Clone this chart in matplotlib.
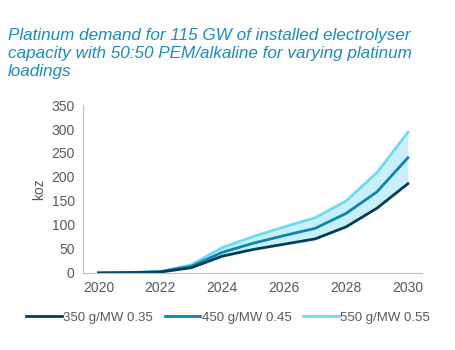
import numpy as np
import matplotlib.pyplot as plt
plt.switch_backend('agg')

years = [2020, 2021, 2022, 2023, 2024, 2025, 2026, 2027, 2028, 2029, 2030]
low = [0, 0.6, 2, 11, 35, 49, 60, 71, 96, 135, 186]
mid = [0, 0.8, 2.5, 14, 43, 62, 78, 93, 124, 169, 240]
high = [0, 1, 3, 17, 53, 76, 96, 115, 150, 209, 293]
labels = ["350 g/MW 0.35", "450 g/MW 0.45", "550 g/MW 0.55"]
colors = ["#003e5c", "#0a86b4", "#6ddaf6"]

plt.rcParams['font.family'] = ['Liberation Sans', 'DejaVu Sans']

fig = plt.figure(figsize=(4.56, 3.5), dpi=100)
ax = fig.add_axes([0.182, 0.22, 0.743, 0.48])

ax.fill_between(years, low, high, color="#c9eff9", lw=0)
ax.plot(years, high, color=colors[2], lw=2, label=labels[2])
ax.plot(years, mid, color=colors[1], lw=2, label=labels[1])
ax.plot(years, low, color=colors[0], lw=2, label=labels[0])

ax.set_xlim(2019.5, 2030.45)
ax.set_ylim(0, 350)
ax.set_xticks([2020, 2022, 2024, 2026, 2028, 2030])
ax.set_yticks(np.arange(0, 351, 50))
ax.tick_params(length=0, labelsize=10, colors="#595959", pad=6)
ax.set_ylabel("koz", fontsize=10, color="#595959", labelpad=4)
for s in ["top", "right"]:
    ax.spines[s].set_visible(False)
for s in ["left", "bottom"]:
    ax.spines[s].set_color("#bfbfbf")

h, l = ax.get_legend_handles_labels()
fig.legend(h[::-1], l[::-1], loc="center", bbox_to_anchor=(0.5, 0.092), ncol=3,
           frameon=False, fontsize=9.5, handlelength=2.7, handletextpad=0.1,
           columnspacing=0.9, labelcolor="#595959")

fig.text(0.018, 0.92, "Platinum demand for 115 GW of installed electrolyser\n"
         "capacity with 50:50 PEM/alkaline for varying platinum\nloadings",
         fontsize=12.3, style="italic", color="#1a8cbf", va="top", ha="left",
         linespacing=1.25)

fig.savefig("out.png", dpi=100)
